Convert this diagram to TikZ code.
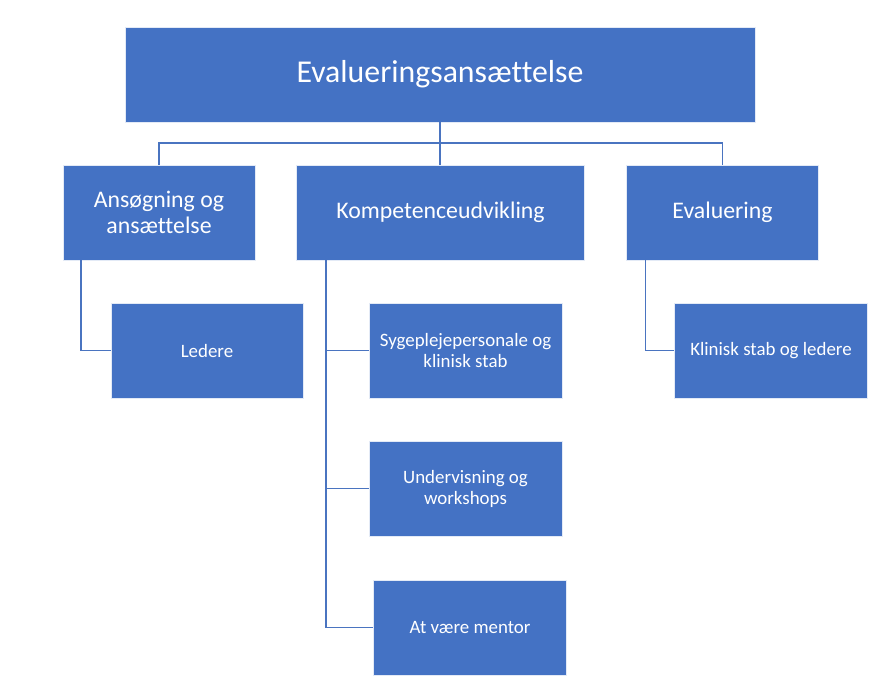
\documentclass[tikz,border=0pt]{standalone}
\usepackage{fontspec}
\setmainfont{Carlito}[Ligatures={NoCommon}]
\definecolor{boxblue}{HTML}{4472C4}
\definecolor{lineblue}{HTML}{4A74C0}
\begin{document}
\begin{tikzpicture}[x=1pt,y=-1pt,
  box/.style={rectangle, fill=boxblue, draw=white!85!boxblue, line width=0.8pt, text=white, align=center, inner sep=0pt, minimum height=95pt},
  lvltop/.style={box, minimum width=630pt, font=\fontsize{31.8}{36}\selectfont},
  lvltwo/.style={box, minimum width=192pt, font=\fontsize{23.8}{26.5}\selectfont},
  lvlthree/.style={box, minimum width=193pt, font=\fontsize{18.9}{21}\selectfont},
  conn/.style={draw=lineblue, line width=1.4pt}]
\useasboundingbox[fill=white] (0,0) rectangle (877,683);
\node[lvltop] (top) at (440,74.5) {\raisebox{-2.5pt}{Evalueringsansættelse}};
\node[lvltwo] (left) at (159,212.5) {Ansøgning og\\ansættelse};
\node[lvltwo, minimum width=288pt] (mid) at (440.5,212.5) {\raisebox{-1.5pt}{Kompetenceudvikling}};
\node[lvltwo] (right) at (722.5,212.5) {\raisebox{-1.5pt}{Evaluering}};
\node[lvlthree, minimum width=192pt] (ledere) at (207,350.5) {Ledere};
\node[lvlthree] (syg) at (465.5,350.5) {Sygeplejepersonale og\\klinisk stab};
\node[lvlthree] (und) at (465.5,488.5) {Undervisning og\\workshops};
\node[lvlthree] (ment) at (470,627.5) {At være mentor};
\node[lvlthree] (klin) at (771,350.5) {Klinisk stab og ledere};
\coordinate (bus) at (440,143);
\draw[conn] (top.south) -- (top.south |- mid.north);
\draw[conn] (left.north) -- (left.north |- bus) -- (right.north |- bus) -- (right.north);
\draw[conn] ([xshift=-78pt]left.south) |- (ledere.west);
\draw[conn] ([xshift=-114.5pt]mid.south) |- (syg.west);
\draw[conn] ([xshift=-114.5pt]mid.south) |- (und.west);
\draw[conn] ([xshift=-114.5pt]mid.south) |- (ment.west);
\draw[conn] ([xshift=-77pt]right.south) |- (klin.west);
\end{tikzpicture}
\end{document}
